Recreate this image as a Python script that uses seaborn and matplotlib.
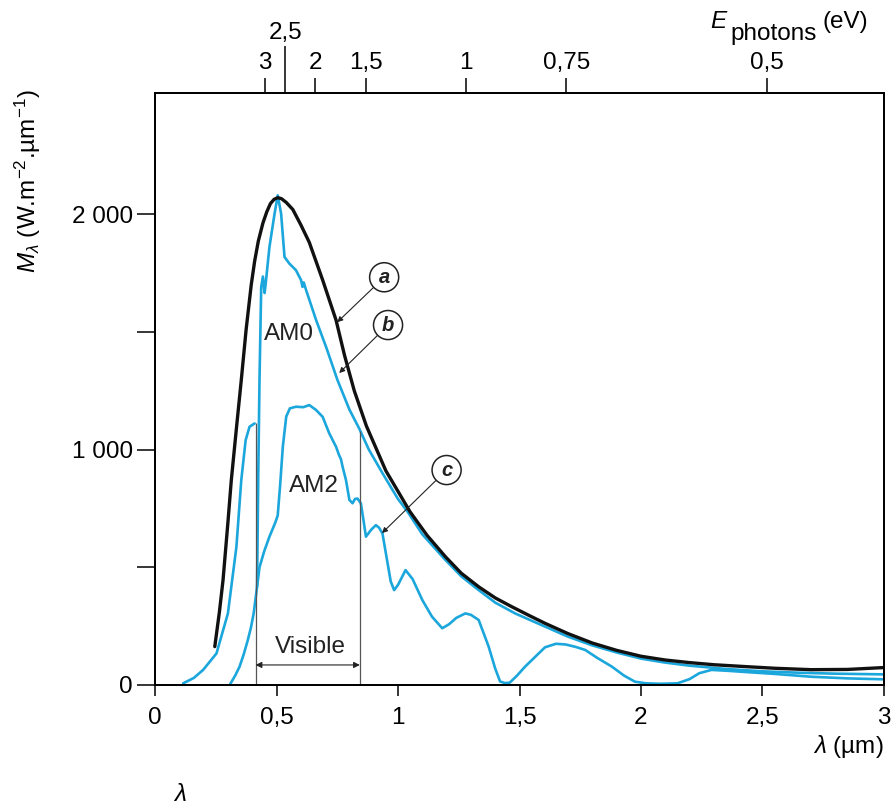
import matplotlib
matplotlib.use("Agg")
import matplotlib.pyplot as plt
import seaborn as sns

# --- data (wavelength in um, M_lambda in W.m-2.um-1) ---
# (a) black body curve
black_x = [0.246, 0.265, 0.28, 0.30, 0.314, 0.335, 0.355, 0.375, 0.396, 0.41, 0.425, 0.444, 0.46, 0.475,
           0.49, 0.505, 0.52, 0.54, 0.567, 0.60, 0.635, 0.69, 0.745, 0.78, 0.82, 0.87, 0.95, 1.05, 1.12,
           1.195, 1.26, 1.332, 1.40, 1.469, 1.54, 1.605, 1.7, 1.8, 1.9, 2.0, 2.1, 2.2, 2.3, 2.43, 2.55,
           2.7, 2.85, 3.0]
black_y = [163, 310, 446, 690, 870, 1090, 1295, 1510, 1700, 1800, 1885, 1962, 2010, 2045,
           2063, 2070, 2066, 2050, 2020, 1955, 1880, 1720, 1550, 1400, 1250, 1100, 910, 735, 635,
           545, 475, 417, 370, 332, 295, 262, 218, 178, 147, 122, 106, 95, 86, 78, 71,
           65, 66, 74]

# (b) AM0, UV part (ends at the visible boundary)
am0_uv_x = [0.116, 0.16, 0.198, 0.253, 0.30, 0.335, 0.355, 0.373, 0.389, 0.41]
am0_uv_y = [7, 30, 64, 134, 304, 587, 870, 1040, 1097, 1111]

# (b) AM0, main part
am0_x = [0.42, 0.425, 0.43, 0.437, 0.444, 0.451, 0.455, 0.471, 0.492, 0.505, 0.519, 0.533, 0.553, 0.58,
         0.601, 0.607, 0.612, 0.622, 0.663, 0.704, 0.751, 0.80, 0.84, 0.88, 0.936, 1.0, 1.04, 1.1,
         1.195, 1.26, 1.332, 1.40, 1.482, 1.605, 1.7, 1.8, 1.9, 2.0, 2.1, 2.2, 2.35, 2.5, 2.65, 2.8, 3.0]
am0_y = [417, 900, 1295, 1690, 1735, 1665, 1700, 1861, 2002, 2080, 2002, 1818, 1790, 1762,
         1720, 1691, 1710, 1677, 1550, 1436, 1295, 1170, 1090, 1000, 900, 790, 735, 640,
         531, 462, 403, 350, 304, 248, 205, 168, 138, 112, 95, 82, 68, 58, 52, 48, 45]

# (c) AM2
am2_x = [0.31, 0.33, 0.348, 0.365, 0.382, 0.395, 0.406, 0.42, 0.43, 0.45, 0.471, 0.495, 0.505, 0.515,
         0.526, 0.54, 0.555, 0.58, 0.61, 0.635, 0.663, 0.69, 0.717, 0.745, 0.758, 0.765, 0.772, 0.786,
         0.80, 0.813, 0.823, 0.833, 0.847, 0.858, 0.868, 0.89, 0.909, 0.922, 0.936, 0.95, 0.97, 0.984,
         1.0, 1.031, 1.06, 1.10, 1.14, 1.182, 1.21, 1.24, 1.277, 1.30, 1.332, 1.373, 1.40, 1.42, 1.44,
         1.46, 1.49, 1.523, 1.56, 1.605, 1.65, 1.69, 1.73, 1.77, 1.82, 1.88, 1.93, 1.975, 2.02, 2.08,
         2.15, 2.2, 2.24, 2.29, 2.36, 2.43, 2.55, 2.7, 2.85, 3.0]
am2_y = [5, 40, 78, 130, 191, 245, 304, 417, 500, 570, 630, 690, 720, 850,
         1012, 1140, 1175, 1182, 1180, 1189, 1168, 1139, 1069, 1012, 975, 960, 927, 870,
         786, 772, 790, 792, 772, 700, 630, 660, 679, 668, 644, 560, 440, 403,
         425, 488, 450, 361, 290, 241, 258, 285, 304, 298, 276, 163, 70, 15, 8,
         10, 40, 78, 115, 160, 175, 172, 162, 149, 115, 78, 40, 14, 7, 5,
         7, 25, 50, 64, 60, 55, 47, 35, 28, 24]

# visible band limits and the height of their marker lines
visible_x = [0.414, 0.843]
visible_top = [1111, 1080]

# axis ticks
x_ticks = [0, 0.5, 1, 1.5, 2, 2.5, 3]
x_labels = ["0", "0,5", "1", "1,5", "2", "2,5", "3"]
y_major = [0, 1000, 2000]
y_labels = ["0", "1 000", "2 000"]
y_minor = [500, 1500]

# photon energy scale on top (lambda = 1.24/E, drawn slightly shifted as in the original)
e_ticks = [3, 2, 1.5, 1, 0.75, 0.5]
e_labels = ["3", "2", "1,5", "1", "0,75", "0,5"]
e_extra = [2.5]
e_extra_labels = ["2,5"]
hc = 1.24
shift = 0.04

CYAN = "#1ba6dc"
DARK = "#222222"
FS = 17.5

sns.set_style("ticks", rc={"axes.edgecolor": "black", "xtick.color": "black", "ytick.color": "black",
                           "text.color": "black", "axes.labelcolor": "black"})
plt.rcParams["font.family"] = ["Liberation Sans", "DejaVu Sans"]
plt.rcParams["mathtext.fontset"] = "custom"
plt.rcParams["mathtext.rm"] = "Liberation Sans"
plt.rcParams["mathtext.it"] = "Liberation Sans:italic"
plt.rcParams["mathtext.bf"] = "Liberation Sans:bold"

fig = plt.figure(figsize=(8.96, 8.11), dpi=100)
ax = fig.add_axes([0.173, 0.1554, 0.8136, 0.73])

# curves
sns.lineplot(x=am2_x, y=am2_y, ax=ax, color=CYAN, linewidth=1.9, sort=False, estimator=None)
sns.lineplot(x=am0_uv_x, y=am0_uv_y, ax=ax, color=CYAN, linewidth=1.9, sort=False, estimator=None)
sns.lineplot(x=am0_x, y=am0_y, ax=ax, color=CYAN, linewidth=1.9, sort=False, estimator=None)
sns.lineplot(x=black_x, y=black_y, ax=ax, color="#111111", linewidth=2.4, sort=False, estimator=None)

# visible band
ax.vlines(visible_x, 0, visible_top, color="#555555", linewidth=0.9)
ax.annotate("", xy=(visible_x[0], 85), xytext=(visible_x[1], 85),
            arrowprops=dict(arrowstyle="<|-|>", color=DARK, lw=0.8, mutation_scale=9,
                            shrinkA=0, shrinkB=0))
ax.text(0.64, 160, "Visible", ha="center", va="center", fontsize=FS, color=DARK)

ax.text(0.55, 1493, "AM0", ha="center", va="center", fontsize=FS, color=DARK)
ax.text(0.652, 845, "AM2", ha="center", va="center", fontsize=FS, color=DARK)

# circled letters
callouts = [("a", (0.943, 1732), (0.75, 1541)),
            ("b", (0.959, 1529), (0.758, 1325)),
            ("c", (1.20, 913), (0.934, 645))]
for letter, pos, tip in callouts:
    ax.annotate(letter, xy=tip, xytext=pos, ha="center", va="center", fontsize=14.5,
                fontstyle="italic", fontweight="bold", color=DARK,
                bbox=dict(boxstyle="circle,pad=0.25", fc="white", ec=DARK, lw=1.1),
                arrowprops=dict(arrowstyle="-|>", color=DARK, lw=0.8, mutation_scale=8,
                                shrinkA=0, shrinkB=0))

# bottom / left axes
ax.set_xlim(0, 3)
ax.set_ylim(0, 2515)
ax.set_xticks(x_ticks, x_labels)
ax.set_yticks(y_major, y_labels)
ax.set_yticks(y_minor, minor=True)
ax.tick_params(axis="x", direction="out", length=8, width=1.1, pad=8, labelsize=FS)
ax.tick_params(axis="y", which="both", direction="out", length=13, width=1.1, pad=3, labelsize=FS)
for s in ax.spines.values():
    s.set_linewidth(1.3)
    s.set_visible(True)

ax.set_xlabel(r"$\lambda$ (µm)", fontsize=FS, loc="right", labelpad=3)
ax.set_ylabel(r"$M_\lambda$ (W.m$^{-2}$.µm$^{-1}$)", fontsize=FS)
ax.yaxis.set_label_coords(-0.154, 0.851)

# top energy axis
top = ax.twiny()
top.set_xlim(ax.get_xlim())
top.set_xticks([hc / e + shift for e in e_ticks], e_labels)
top.set_xticks([hc / e + shift for e in e_extra], e_extra_labels, minor=True)
top.tick_params(axis="x", which="major", direction="out", length=11, width=1.1, pad=2.5, labelsize=FS)
top.tick_params(axis="x", which="minor", direction="out", length=34, width=1.1, pad=1, labelsize=FS)
for s in top.spines.values():
    s.set_linewidth(1.3)

# "E_photons (eV)" title of the energy scale, subscript kept full size as in the original
ax.text(0.773, 1.12, "E", transform=ax.transAxes, ha="center", va="center", fontsize=FS,
        fontstyle="italic")
ax.text(0.789, 1.0997, "photons", transform=ax.transAxes, ha="left", va="center", fontsize=FS)
ax.text(0.915, 1.12, "(eV)", transform=ax.transAxes, ha="left", va="center", fontsize=FS)

fig.text(180 / 896, 1 - 795 / 811, r"$\lambda$", fontsize=FS, ha="center", va="center")

fig.savefig("out.png", dpi=100)
